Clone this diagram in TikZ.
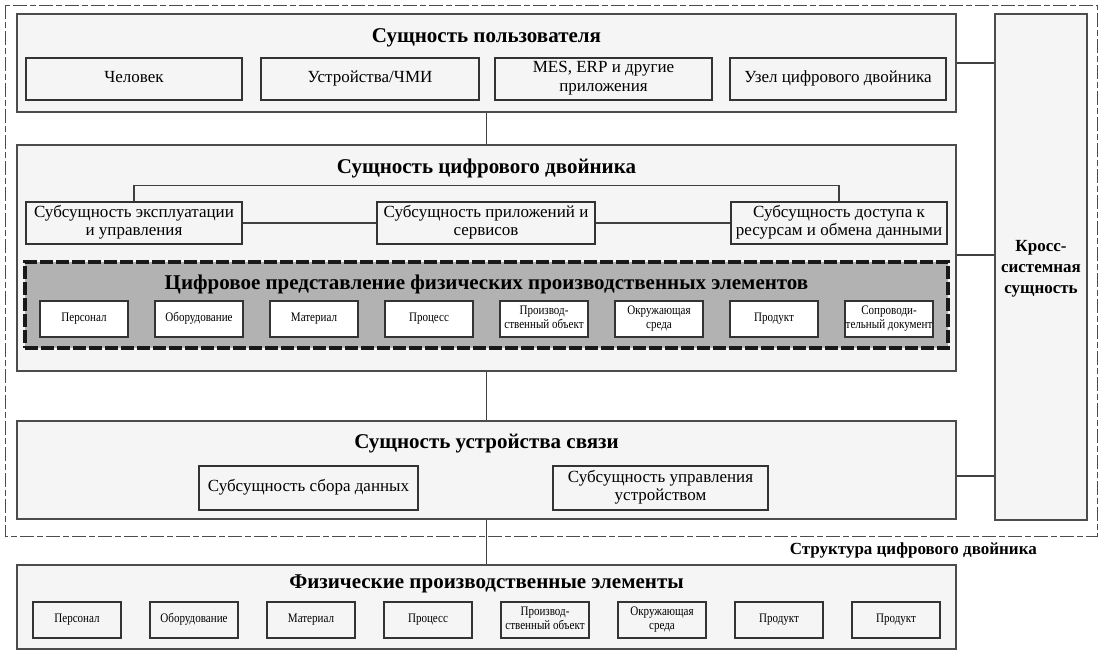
\documentclass[tikz,border=0pt]{standalone}
\usepackage{fontspec}
\setmainfont{Liberation Serif}
\newfontfamily\condfont[FakeStretch=0.85]{Liberation Serif}
\usetikzlibrary{calc}

\begin{document}
\begin{tikzpicture}[x=1pt, y=-1pt,
		bigbox/.style={draw=black!70, line width=1.3pt, fill=black!4, inner sep=0pt},
		subbox/.style={draw=black!80, line width=1.6pt, fill=black!4, inner sep=1pt, align=center, minimum height=42pt, font=\fontsize{17}{18.5}\selectfont, execute at begin node=\strut, execute at end node=\strut},
		elembox/.style={draw=black!80, line width=1.4pt, fill=white, minimum width=88pt, minimum height=36pt, inner sep=0pt, align=center, font=\condfont\fontsize{13}{14}\selectfont, execute at begin node=\strut, execute at end node=\strut},
		title/.style={inner sep=0pt, font=\bfseries\fontsize{21}{24}\selectfont},
		link/.style={draw=black!75, line width=1.1pt}]

		\useasboundingbox[fill=white] (0,0) rectangle (1102,653);

		\def \boxw{939pt}
		\def \midx{486.5}

		% twin structure frame
		\draw[black!70, line width=1pt, dash pattern=on 14pt off 3pt on 6pt off 3pt] (5,5) rectangle (1097,536);
		\node[anchor=east, inner sep=0pt, font=\bfseries\fontsize{17}{20}\selectfont] (twinlabel) at (1037,550) {Структура цифрового двойника};

		% cross-system entity
		\node[bigbox, minimum width=92pt, minimum height=506pt] (cross) at (1041,267) {};
		\node[align=center, inner sep=0pt, font=\bfseries\fontsize{17}{21}\selectfont] (crossT) at (1041,269) {Кросс-\\системная\\сущность};

		% user entity
		\node[bigbox, minimum width=\boxw, minimum height=98pt] (user) at (\midx,63) {};
		\node[title] (userT) at (\midx,38) {Сущность пользователя};
		\node[subbox, minimum width=216pt] (human) at (134,79) {Человек};
		\node[subbox, minimum width=218pt] (hmi) at (370,79) {Устройства/ЧМИ};
		\node[subbox, minimum width=217pt] (mes) at (603.5,79) {MES, ERP и другие\\приложения};
		\node[subbox, minimum width=216pt] (twinnode) at (838,79) {Узел цифрового двойника};

		% digital twin entity
		\node[bigbox, minimum width=\boxw, minimum height=226pt] (dt) at (\midx,258) {};
		\node[title] (dtT) at (\midx,168) {Сущность цифрового двойника};
		\node[subbox, minimum width=216pt] (opsub) at (134,223) {Субсущность эксплуатации\\и управления};
		\node[subbox, minimum width=218pt] (appsub) at (486,223) {Субсущность приложений и\\сервисов};
		\node[subbox, minimum width=216pt] (accsub) at (839,223) {Субсущность доступа к\\ресурсам и обмена данными};

		\draw[link] (opsub.north) -- ++(0,-16) -| (accsub.north);
		\draw[link] (opsub.east) -- (appsub.west);
		\draw[link] (appsub.east) -- (accsub.west);

		% digital representation
		\node[draw=black!90, line width=4pt, dash pattern=on 13pt off 3pt, fill=black!30, minimum width=923pt, minimum height=86pt] (digirep) at (\midx,305) {};
		\node[title] (digirepT) at (\midx,284) {Цифровое представление физических производственных элементов};
		\foreach \txt [count=\i from 0] in {Персонал, Оборудование, Материал, Процесс, {Производ-\\ственный объект}, {Окружающая\\среда}, Продукт, {Сопроводи-\\тельный документ}}
			\node[elembox] (rep\i) at (84+115*\i,319) {\txt};

		% communication device entity
		\node[bigbox, minimum width=\boxw, minimum height=98pt] (comm) at (\midx,470) {};
		\node[title] (commT) at (\midx,444) {Сущность устройства связи};
		\node[subbox, minimum width=219pt, minimum height=44pt] (collsub) at (308.5,488) {Субсущность сбора данных};
		\node[subbox, minimum width=215pt, minimum height=44pt] (devsub) at (660.5,488) {Субсущность управления\\устройством};

		% physical production elements
		\node[bigbox, minimum width=\boxw, minimum height=84pt] (phys) at (\midx,607) {};
		\node[title] (physT) at (\midx,584) {Физические производственные элементы};
		\foreach \txt [count=\i from 0] in {Персонал, Оборудование, Материал, Процесс, {Производ-\\ственный объект}, {Окружающая\\среда}, Продукт, Продукт}
			\node[elembox, fill=black!4] (phy\i) at (77+117*\i,620) {\txt};

		% connectors
		\draw[link] (user.south) -- (dt.north);
		\draw[link] (dt.south) -- (comm.north);
		\draw[link] (comm.south) -- (phys.north);
		\draw[link] (user.east) -- (user.east -| cross.west);
		\draw[link] ([yshift=3pt]dt.east) -- ([yshift=3pt]dt.east -| cross.west);
		\draw[link] ([yshift=-6pt]comm.east) -- ([yshift=-6pt]comm.east -| cross.west);

\end{tikzpicture}
\end{document}
